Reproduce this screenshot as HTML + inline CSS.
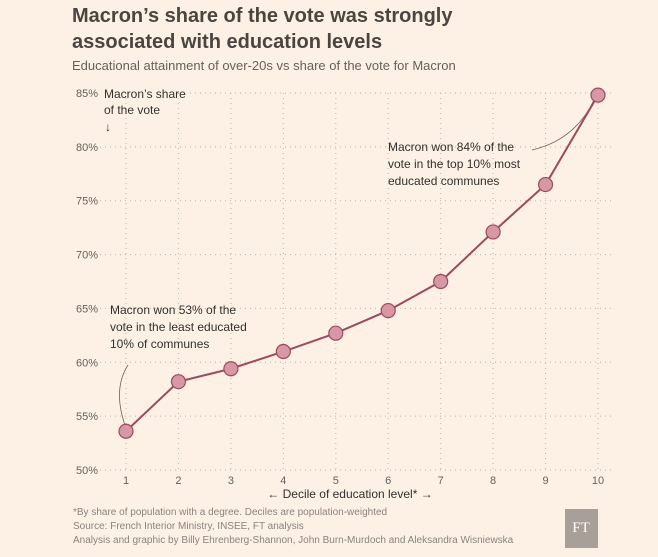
<!DOCTYPE html>
<html><head><meta charset="utf-8"><style>
body{margin:0;background:#fdf1e6;font-family:"Liberation Sans",sans-serif;}
svg{display:block}
</style></head><body>
<svg width="658" height="557" viewBox="0 0 658 557">
<rect width="658" height="557" fill="#fdf1e6"/>
<text x="72" y="22" font-size="20" font-weight="bold" fill="#4a4541">Macron’s share of the vote was strongly</text>
<text x="72" y="48" font-size="20" font-weight="bold" fill="#4a4541">associated with education levels</text>
<text x="72" y="70" font-size="13" fill="#66605c">Educational attainment of over-20s vs share of the vote for Macron</text>
<g id="grid"></g>
<g id="yt" font-size="11" fill="#66605c" text-anchor="end"></g>
<g id="xt" font-size="11" fill="#66605c" text-anchor="middle"></g>
<text x="104" y="98" font-size="12" fill="#33302e">Macron’s share</text>
<text x="104" y="114" font-size="12" fill="#33302e">of the vote</text>
<text x="105" y="131" font-size="12" fill="#33302e">↓</text>
<path d="M128,365 Q112,390 126,428" fill="none" stroke="#66605c" stroke-width="0.8"/>
<path d="M532,150 Q575,140 594,100" fill="none" stroke="#66605c" stroke-width="0.8"/>
<g id="series"></g>
<g font-size="12" fill="#33302e">
<text x="110" y="314">Macron won 53% of the</text><text x="110" y="331">vote in the least educated</text><text x="110" y="348">10% of communes</text></g>
<g font-size="12" fill="#33302e">
<text x="388" y="151">Macron won 84% of the</text><text x="388" y="168">vote in the top 10% most</text><text x="388" y="185">educated communes</text></g>
<text x="350" y="498" font-size="12" fill="#33302e" text-anchor="middle">← Decile of education level* →</text>
<g font-size="10" fill="#8a837e">
<text x="73" y="515">*By share of population with a degree. Deciles are population-weighted</text>
<text x="73" y="529">Source: French Interior Ministry, INSEE, FT analysis</text>
<text x="73" y="543">Analysis and graphic by Billy Ehrenberg-Shannon, John Burn-Murdoch and Aleksandra Wisniewska</text></g>
<rect x="565" y="509" width="33" height="39" fill="#a8a098"/>
<text x="581" y="532" font-size="15" fill="#fff" text-anchor="middle" font-family="Liberation Serif,serif">FT</text>
<script>
const deciles=[1,2,3,4,5,6,7,8,9,10];
const share=[53.6,58.2,59.4,61.0,62.7,64.8,67.5,72.1,76.5,84.8];
const yTicks=[50,55,60,65,70,75,80,85];
const ns="http://www.w3.org/2000/svg";
const X=d=>126+(d-1)*(598-126)/9;
const Y=v=>470-(v-50)*(470-93)/35;
function mk(t,a,p){const e=document.createElementNS(ns,t);for(const k in a)e.setAttribute(k,a[k]);p.appendChild(e);return e;}
const g=document.getElementById('grid'),yt=document.getElementById('yt'),xt=document.getElementById('xt'),s=document.getElementById('series');
yTicks.forEach(v=>{
 const l=mk('line',{x1:v===85?190:100,x2:612,y1:Y(v),y2:Y(v),stroke:'#c9beb4','stroke-width':1.2,'stroke-dasharray':'1 4'},g);
 
 
 const t=mk('text',{x:98,y:Y(v)+4},yt);t.textContent=v+'%';
 
 
});
deciles.forEach(d=>{
 const l=mk('line',{x1:X(d),x2:X(d),y1:Y(85),y2:Y(50),stroke:'#c9beb4','stroke-width':1.2,'stroke-dasharray':'1 4'},g);
 
 
 const t=mk('text',{x:X(d),y:484},xt);t.textContent=d;
 
 
});
const p=mk('polyline',{points:deciles.map((d,i)=>X(d)+','+Y(share[i])).join(' '),fill:'none',stroke:'#9c4a5f','stroke-width':2},s);


deciles.forEach((d,i)=>{
 const c=mk('circle',{cx:X(d),cy:Y(share[i]),r:7,fill:'#d797a5',stroke:'#9c4a5f','stroke-width':1.2},s);
 
 
});
</script>
</svg>
</body></html>
